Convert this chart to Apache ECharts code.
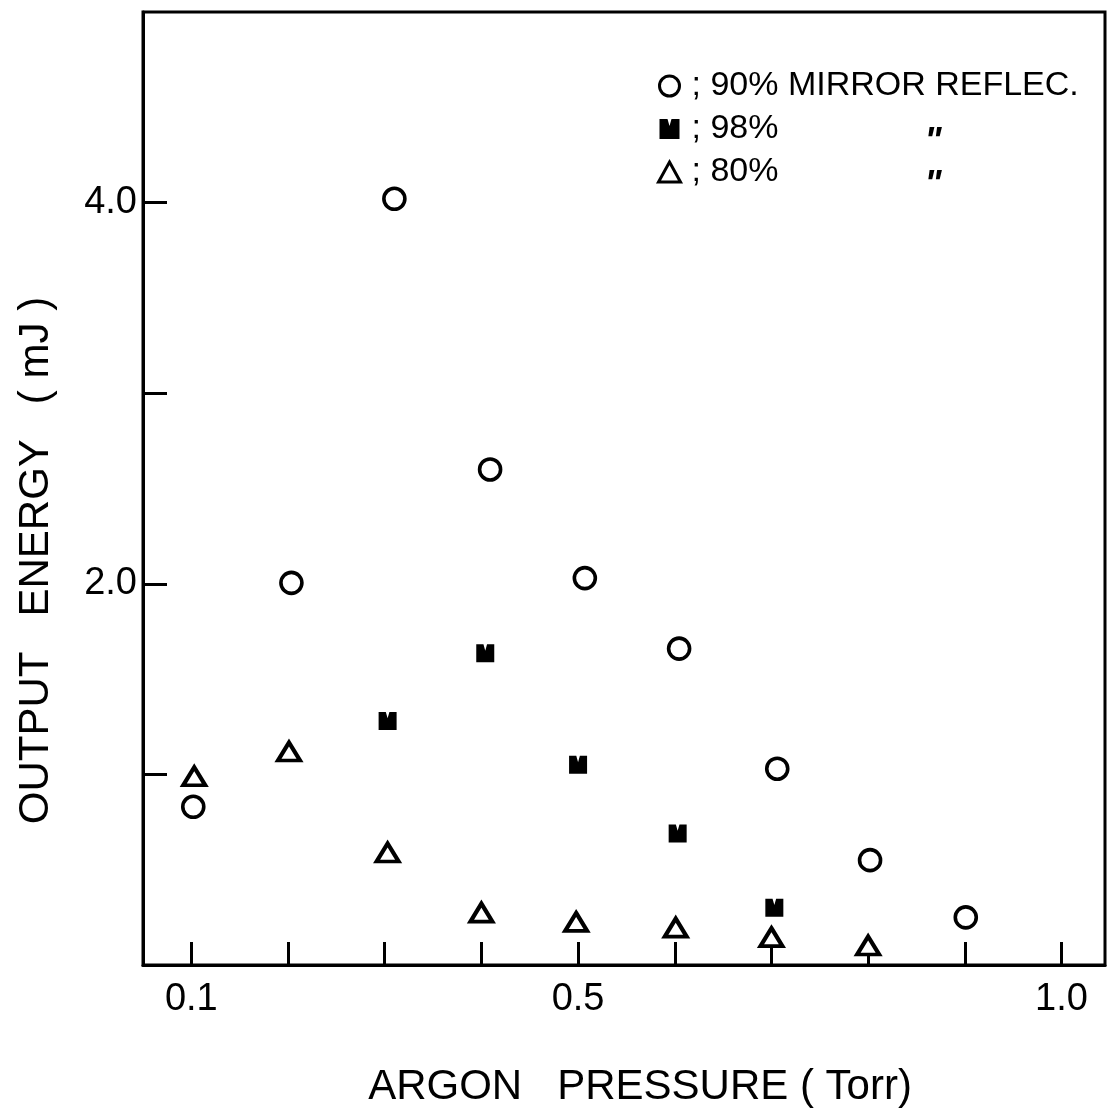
<!DOCTYPE html>
<html>
<head>
<meta charset="utf-8">
<script src="https://cdn.jsdelivr.net/npm/echarts@6/dist/echarts.min.js"></script>
<style>
  html, body { margin: 0; padding: 0; background: #fff; }
  #chart { width: 1108px; height: 1115px; }
</style>
</head>
<body>
<div id="chart"></div>
<script>
// Output energy vs argon pressure for three mirror reflectivities
const pressure90 = [0.102, 0.2035, 0.31, 0.409, 0.507, 0.6045, 0.706, 0.802, 0.901];
const energy90   = [0.83, 2.005, 4.02, 2.60, 2.03, 1.66, 1.03, 0.55, 0.25];
const pressure98 = [0.303, 0.404, 0.50, 0.603, 0.703];
const energy98   = [1.28, 1.635, 1.05, 0.69, 0.30];
const pressure80 = [0.103, 0.201, 0.303, 0.40, 0.498, 0.601, 0.70, 0.80];
const energy80   = [0.99, 1.12, 0.59, 0.275, 0.226, 0.196, 0.146, 0.102];

const seriesNames = ['; 90% MIRROR REFLEC.', '; 98%', '; 80%'];
const dittoMark = '"';

const xTicks      = [0.1, 0.2, 0.3, 0.4, 0.5, 0.6, 0.7, 0.8, 0.9, 1.0];
const xTickLabels = [0.1, 0.5, 1.0];
const yTicks      = [1, 2, 3, 4];
const yTickLabels = [2, 4];

const xTitle = 'ARGON   PRESSURE ( Torr)';
const yTitle = 'OUTPUT   ENERGY   ( mJ )';

const FONT = 'Liberation Sans';
const INK = '#000';

const zip = (xs, ys) => xs.map((x, i) => [x, ys[i]]);

// filled block with a small notch on top
const notchedSquare = 'path://M0,0 L4,0 L5,3.5 L6,0 L10,0 L10,10 L0,10 Z';

const chart = echarts.init(document.getElementById('chart'), null, { renderer: 'canvas' });

chart.setOption({
  animation: false,
  backgroundColor: '#fff',
  grid: {
    left: 143, right: 3, top: 12, bottom: 150,
    outerBoundsMode: 'none',
    containLabel: false,
    show: true, borderColor: INK, borderWidth: 3, backgroundColor: 'transparent'
  },
  legend: {
    orient: 'vertical',
    left: 652, top: 64,
    itemWidth: 22, itemHeight: 20, itemGap: 9,
    selectedMode: false,
    itemStyle: { borderWidth: 3 },
    textStyle: { fontFamily: FONT, fontSize: 34, color: INK, padding: [0, 0, 0, 6] },
    data: seriesNames
  },
  xAxis: {
    type: 'value',
    min: 0.05, max: 1.045,
    name: xTitle,
    nameLocation: 'middle',
    nameGap: 101,
    nameTextStyle: { fontFamily: FONT, fontSize: 42, color: INK, padding: [0, 0, 0, 32] },
    axisLine: { show: true, onZero: false, lineStyle: { color: INK, width: 3 } },
    axisTick: { show: true, inside: true, length: 23, customValues: xTicks, lineStyle: { color: INK, width: 3 } },
    axisLabel: {
      customValues: xTickLabels, margin: 16,
      fontFamily: FONT, fontSize: 38, color: INK,
      formatter: v => Number(v).toFixed(1)
    },
    splitLine: { show: false }
  },
  yAxis: {
    type: 'value',
    min: 0, max: 5,
    name: yTitle,
    nameLocation: 'middle',
    nameGap: 86,
    nameRotate: 90,
    nameTextStyle: { fontFamily: FONT, fontSize: 42, color: INK, padding: [0, 144, 0, 0] },
    axisLine: { show: true, onZero: false, lineStyle: { color: INK, width: 3 } },
    axisTick: { show: true, inside: true, length: 24, customValues: yTicks, lineStyle: { color: INK, width: 3 } },
    axisLabel: {
      customValues: yTickLabels, margin: 6,
      fontFamily: FONT, fontSize: 38, color: INK,
      formatter: v => Number(v).toFixed(1)
    },
    splitLine: { show: false }
  },
  series: [
    {
      name: seriesNames[0], type: 'scatter',
      symbol: 'circle', symbolSize: 21,
      itemStyle: { color: '#fff', borderColor: INK, borderWidth: 3.6, opacity: 1 },
      data: zip(pressure90, energy90)
    },
    {
      name: seriesNames[1], type: 'scatter',
      symbol: notchedSquare, symbolSize: 18,
      itemStyle: { color: INK, borderWidth: 0, opacity: 1 },
      data: zip(pressure98, energy98)
    },
    {
      name: seriesNames[2], type: 'scatter',
      symbol: 'triangle', symbolSize: [22, 18],
      itemStyle: { color: '#fff', borderColor: INK, borderWidth: 4, opacity: 1 },
      data: zip(pressure80, energy80)
    }
  ],
  graphic: [
    { type: 'text', x: 933, y: 143, style: { text: dittoMark, fill: INK, font: 'italic bold 36px "Liberation Sans"', align: 'center', verticalAlign: 'middle' } },
    { type: 'text', x: 933, y: 186, style: { text: dittoMark, fill: INK, font: 'italic bold 36px "Liberation Sans"', align: 'center', verticalAlign: 'middle' } }
  ]
});
</script>
</body>
</html>
